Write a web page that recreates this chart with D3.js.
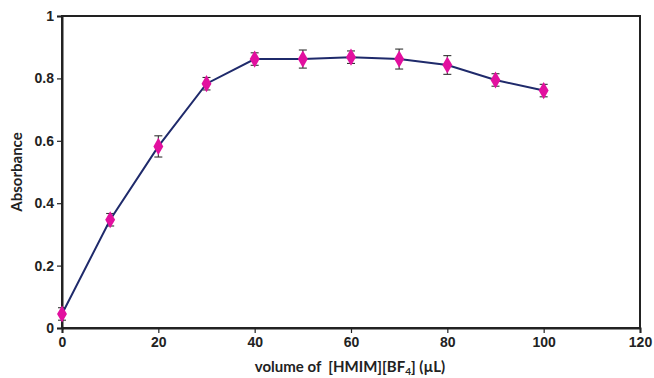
<!DOCTYPE html>
<html><head><meta charset="utf-8">
<script src="https://cdn.jsdelivr.net/npm/d3@7"></script>
<style>body{margin:0;background:#fff}svg{display:block}</style>
</head><body>
<svg id="c" width="654" height="378"></svg>
<script>
const volumes = [0, 10, 20, 30, 40, 50, 60, 70, 80, 90, 100];
const absorbance = [0.045, 0.347, 0.582, 0.783, 0.862, 0.862, 0.868, 0.862, 0.843, 0.795, 0.761];
const errors = [0.02, 0.02, 0.034, 0.02, 0.02, 0.029, 0.02, 0.032, 0.03, 0.02, 0.02];
const xTicks = [0, 20, 40, 60, 80, 100, 120];
const yTicks = [0, 0.2, 0.4, 0.6, 0.8, 1];

const svg = d3.select("#c");
const L = 62, R = 640, T = 16, B = 328;
const x = d3.scaleLinear().domain([0, 120]).range([L, R]);
const y = d3.scaleLinear().domain([0, 1]).range([B, T]);
const tickFont = "Liberation Sans, Arial, sans-serif";

// frame
svg.append("rect").attr("x", L).attr("y", T).attr("width", R - L).attr("height", B - T)
  .attr("fill", "none").attr("stroke", "#222").attr("stroke-width", 2);

const xAxis = svg.append("g").attr("transform", `translate(0,${B})`)
  .call(d3.axisBottom(x).tickValues(xTicks).tickSize(5).tickPadding(4).tickFormat(d3.format("d")));
const yAxis = svg.append("g").attr("transform", `translate(${L},0)`)
  .call(d3.axisLeft(y).tickValues(yTicks).tickSize(5).tickPadding(3).tickFormat(d => d === 0 ? "0" : d === 1 ? "1" : d3.format(".1f")(d)));
[xAxis, yAxis].forEach(a => {
  a.select(".domain").attr("stroke", "#222").attr("stroke-width", 2);
  a.selectAll(".tick line").attr("stroke", "#222").attr("stroke-width", 1.2);
  a.selectAll("text").attr("fill", "#222").style("font-family", tickFont)
    .style("font-size", "14px").style("font-weight", "bold");
});

// error bars
const eb = svg.append("g").attr("stroke", "#333").attr("stroke-width", 1.1);
volumes.forEach((v, i) => {
  const cx = x(v), y0 = y(absorbance[i] - errors[i]), y1 = y(absorbance[i] + errors[i]);
  eb.append("line").attr("x1", cx).attr("x2", cx).attr("y1", y0).attr("y2", y1);
  eb.append("line").attr("x1", cx - 4).attr("x2", cx + 4).attr("y1", y0).attr("y2", y0);
  eb.append("line").attr("x1", cx - 4).attr("x2", cx + 4).attr("y1", y1).attr("y2", y1);
});

// line
const pts = volumes.map((v, i) => [v, absorbance[i]]);
svg.append("path").datum(pts)
  .attr("d", d3.line().x(d => x(d[0])).y(d => y(d[1])))
  .attr("fill", "none").attr("stroke", "#1f2a6b").attr("stroke-width", 2);

// markers
svg.append("g").selectAll("path").data(pts).join("path")
  .attr("transform", d => `translate(${x(d[0])},${y(d[1])})`)
  .attr("d", d3.symbol().type(d3.symbolDiamond).size(85))
  .attr("fill", "#e2109f");

// axis titles
svg.append("text").attr("transform", `translate(22,${(T + B) / 2}) rotate(-90)`)
  .attr("text-anchor", "middle").style("font-family", "Lato, 'Open Sans', sans-serif")
  .style("font-size", "15px").style("font-weight", "bold").attr("fill", "#222").text("Absorbance");

const xt = svg.append("text").attr("x", 350).attr("y", 372).attr("text-anchor", "middle")
  .style("white-space", "pre")
  .style("font-family", "Lato, 'Open Sans', sans-serif").style("font-size", "15px")
  .style("font-weight", "bold").attr("fill", "#222");
xt.append("tspan").text("volume of  [HMIM][BF");
xt.append("tspan").attr("dy", 3).style("font-size", "10px").text("4");
xt.append("tspan").attr("dy", -3).text("] (µL)");
</script>
</body></html>
